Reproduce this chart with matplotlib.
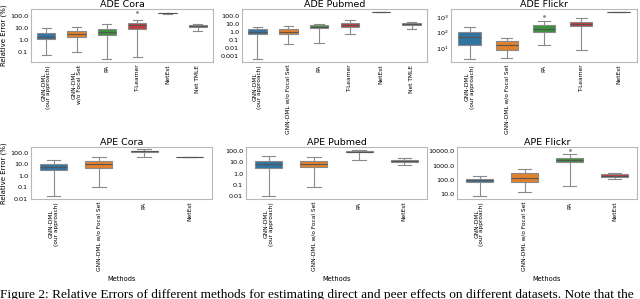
import numpy as np
import matplotlib
matplotlib.use('Agg')
import matplotlib.pyplot as plt
from matplotlib.ticker import FuncFormatter, LogLocator, NullLocator, LogFormatterMathtext

# method labels
ade_cora_methods = ["GNN-DML\n(our approach)", "GNN-DML\nw/o Focal Set", "PA", "T-Learner", "NetEst", "Net TMLE"]
ade_pubmed_methods = ["GNN-DML\n(our approach)", "GNN-DML w/o Focal Set", "PA", "T-Learner", "NetEst", "Net TMLE"]
ade_flickr_methods = ["GNN-DML\n(our approach)", "GNN-DML w/o Focal Set", "PA", "T-Learner", "NetEst"]
ape_methods = ["GNN-DML\n(our approach)", "GNN-DML w/o Focal Set", "PA", "NetEst"]

# box stats: whisker low, q1, median, q3, whisker high (relative error %)
ade_cora_lo = [0.06, 0.11, 0.025, 0.038, 170, 6.0]
ade_cora_q1 = [1.2, 1.9, 3.0, 9.4, 175, 13]
ade_cora_med = [2.0, 3.3, 5.0, 18, 180, 16]
ade_cora_q3 = [4.4, 6.0, 8.3, 30, 186, 19]
ade_cora_hi = [10, 13, 21, 50, 190, 25]
ade_cora_fl = [[], [], [], [215], [], []]

ade_pubmed_lo = [0.00035, 0.029, 0.038, 0.5, 300, 2.2]
ade_pubmed_q1 = [0.5, 0.5, 2.9, 4.6, 310, 7.5]
ade_pubmed_med = [1.0, 1.1, 4.6, 8.3, 316, 11]
ade_pubmed_q3 = [2.2, 2.6, 7.5, 14.7, 322, 15]
ade_pubmed_hi = [4.6, 5.6, 12, 32, 330, 18]
ade_pubmed_fl = [[], [], [], [], [], []]

ade_flickr_lo = [1.9, 2.4, 17, 8, 2050]
ade_flickr_q1 = [15, 7, 105, 260, 2080]
ade_flickr_med = [52, 15, 180, 350, 2100]
ade_flickr_q3 = [110, 28, 295, 470, 2120]
ade_flickr_hi = [230, 45, 570, 900, 2150]
ade_flickr_fl = [[], [], [1160], [], []]

ape_cora_lo = [0.017, 0.1, 43, 41]
ape_cora_q1 = [2.9, 4.6, 110, 42]
ape_cora_med = [6.3, 11, 127, 43]
ape_cora_q3 = [10, 19, 150, 44]
ape_cora_hi = [23.5, 45, 190, 45]
ape_cora_fl = [[], [], [], []]

ape_pubmed_lo = [0.012, 0.07, 17, 6.3]
ape_pubmed_q1 = [3.3, 3.8, 75, 10.7]
ape_pubmed_med = [7.2, 7.2, 87, 14]
ape_pubmed_q3 = [12, 14, 100, 16]
ape_pubmed_hi = [33, 30, 115, 22]
ape_pubmed_fl = [[], [], [], []]

ape_flickr_lo = [6.9, 13.8, 34, 117]
ape_flickr_q1 = [65, 70, 1850, 155]
ape_flickr_med = [90, 140, 2650, 200]
ape_flickr_q3 = [117, 290, 3650, 250]
ape_flickr_hi = [200, 530, 6200, 320]
ape_flickr_fl = [[], [], [13000], []]

colors = ["#3274a1", "#e1812c", "#3a923a", "#c03d3e", "#9372b2", "#845b53"]
line_c = "#8a8a8a"


def make_stats(lo, q1, med, q3, hi, fl):
    return [dict(whislo=a, q1=b, med=c, q3=d, whishi=e, fliers=f)
            for a, b, c, d, e, f in zip(lo, q1, med, q3, hi, fl)]


def dec_fmt(v, _):
    if v >= 0.1:
        return f"{v:.1f}"
    return f"{v:g}"


def panel(rect, title, methods, stats, ylim, math_fmt=False, ylabel=False, xlabel=False):
    ax = fig.add_axes(rect)
    n = len(methods)
    pos = np.arange(n)
    bp = ax.bxp(stats, positions=pos, widths=0.6, capwidths=0.3, patch_artist=True,
                showfliers=True, manage_ticks=False,
                boxprops=dict(edgecolor=line_c, linewidth=0.8),
                whiskerprops=dict(color=line_c, linewidth=0.8),
                capprops=dict(color=line_c, linewidth=0.8),
                medianprops=dict(color="#555555", linewidth=0.8),
                flierprops=dict(marker='o', markersize=1, markerfacecolor=line_c,
                                markeredgecolor=line_c))
    for patch, c in zip(bp['boxes'], colors):
        patch.set_facecolor(c)
    ax.set_yscale('log')
    ax.set_ylim(*ylim)
    ax.set_xlim(-0.5, n - 0.5)
    ax.yaxis.set_major_locator(LogLocator(base=10, numticks=12))
    ax.yaxis.set_minor_locator(NullLocator())
    if math_fmt:
        ax.yaxis.set_major_formatter(LogFormatterMathtext())
    else:
        ax.yaxis.set_major_formatter(FuncFormatter(dec_fmt))
    ax.set_xticks(pos)
    ax.set_xticklabels(methods, rotation=90, fontsize=4.2, linespacing=1.0)
    ax.tick_params(axis='y', labelsize=4.6, length=0, pad=2)
    ax.tick_params(axis='x', length=0, pad=2)
    ax.set_title(title, fontsize=6.8, pad=0.3)
    for s in ax.spines.values():
        s.set_color("#b8b8b8")
        s.set_linewidth(0.8)
    if ylabel:
        ax.set_ylabel("Relative Error (%)", fontsize=5, labelpad=2)
    if xlabel:
        x0, _, w, _ = rect
        fig.text(x0 + w / 2, 1 - 279 / H, "Methods", fontsize=4.8, ha="center", va="center")
    return ax


fig = plt.figure(figsize=(6.4, 2.99), dpi=100)
W, H = 640.0, 299.0


def rect(x0, x1, ytop, ybot):
    return [x0 / W, 1 - ybot / H, (x1 - x0) / W, (ybot - ytop) / H]


panel(rect(31, 213, 9, 62), "ADE Cora", ade_cora_methods,
      make_stats(ade_cora_lo, ade_cora_q1, ade_cora_med, ade_cora_q3, ade_cora_hi, ade_cora_fl),
      (0.015, 415), ylabel=True)
panel(rect(242, 427, 9, 62), "ADE Pubmed", ade_pubmed_methods,
      make_stats(ade_pubmed_lo, ade_pubmed_q1, ade_pubmed_med, ade_pubmed_q3, ade_pubmed_hi, ade_pubmed_fl),
      (0.00016, 830))
panel(rect(451, 637, 9, 62), "ADE Flickr", ade_flickr_methods,
      make_stats(ade_flickr_lo, ade_flickr_q1, ade_flickr_med, ade_flickr_q3, ade_flickr_hi, ade_flickr_fl),
      (1.26, 3400), math_fmt=True)
panel(rect(31, 212, 147, 199), "APE Cora", ape_methods,
      make_stats(ape_cora_lo, ape_cora_q1, ape_cora_med, ape_cora_q3, ape_cora_hi, ape_cora_fl),
      (0.01, 306), ylabel=True, xlabel=True)
panel(rect(246, 427, 147, 199), "APE Pubmed", ape_methods,
      make_stats(ape_pubmed_lo, ape_pubmed_q1, ape_pubmed_med, ape_pubmed_q3, ape_pubmed_hi, ape_pubmed_fl),
      (0.006, 220), xlabel=True)
panel(rect(457, 637, 147, 199), "APE Flickr", ape_methods,
      make_stats(ape_flickr_lo, ape_flickr_q1, ape_flickr_med, ape_flickr_q3, ape_flickr_hi, ape_flickr_fl),
      (4.5, 20000), xlabel=True)

fig.text(0.0, 1 - 289 / H,
         "Figure 2: Relative Errors of different methods for estimating direct and peer effects on different datasets. Note that the",
         fontsize=9.6, family="Liberation Serif", va="top", ha="left")

fig.savefig("out.png", dpi=100)
